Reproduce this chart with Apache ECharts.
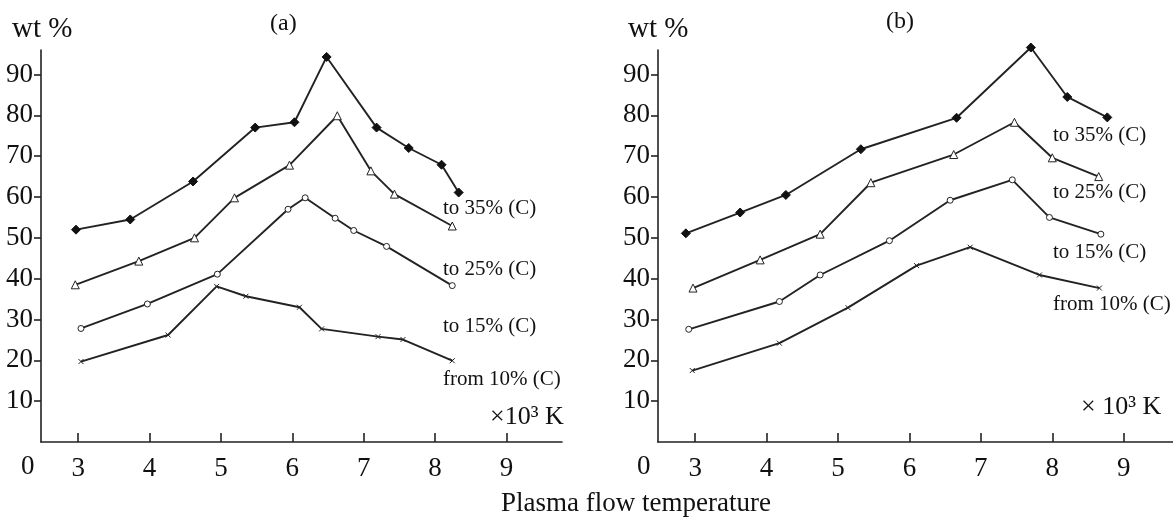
<!DOCTYPE html>
<html>
<head>
<meta charset="utf-8">
<script src="https://cdn.jsdelivr.net/npm/echarts@6/dist/echarts.min.js"></script>
<style>
  html, body { margin: 0; padding: 0; background: #fff; }
  #chart { width: 1173px; height: 527px; }
</style>
</head>
<body>
<div id="chart"></div>
<script>
// temperature (x10^3 K), wt % -- panel (a)
const a35 = [[2.97, 52.0], [3.73, 54.5], [4.61, 63.8], [5.48, 77.0], [6.03, 78.3], [6.48, 94.3], [7.18, 77.0], [7.63, 72.0], [8.09, 67.9], [8.33, 61.1]];
const a25 = [[2.96, 38.5], [3.85, 44.3], [4.63, 50.0], [5.19, 59.8], [5.96, 67.8], [6.63, 79.9], [7.10, 66.4], [7.43, 60.7], [8.24, 52.9]];
const a15 = [[3.04, 27.8], [3.97, 33.8], [4.95, 41.1], [5.94, 57.0], [6.18, 59.8], [6.60, 54.8], [6.86, 51.8], [7.32, 47.9], [8.24, 38.3]];
const a10 = [[3.04, 19.7], [4.26, 26.2], [4.94, 38.1], [5.35, 35.7], [6.10, 33.0], [6.41, 27.7], [7.20, 25.8], [7.55, 25.1], [8.24, 19.9]];

// panel (b)
const b35 = [[2.87, 51.1], [3.63, 56.2], [4.27, 60.5], [5.32, 71.7], [6.66, 79.4], [7.70, 96.6], [8.21, 84.5], [8.77, 79.5]];
const b25 = [[2.97, 37.7], [3.91, 44.6], [4.75, 50.9], [5.46, 63.5], [6.62, 70.4], [7.47, 78.3], [8.00, 69.6], [8.65, 65.0]];
const b15 = [[2.91, 27.6], [4.18, 34.4], [4.75, 40.9], [5.72, 49.3], [6.57, 59.2], [7.44, 64.2], [7.96, 55.0], [8.68, 50.9]];
const b10 = [[2.96, 17.5], [4.18, 24.2], [5.14, 32.9], [6.10, 43.2], [6.85, 47.7], [7.82, 40.9], [8.66, 37.7]];

const xTicks = [3, 4, 5, 6, 7, 8, 9];
const yTicks = [10, 20, 30, 40, 50, 60, 70, 80, 90];
const seriesNames = ['to 35% (C)', 'to 25% (C)', 'to 15% (C)', 'from 10% (C)'];

const FONT = '"Liberation Serif", "DejaVu Serif", serif';
const INK = '#222';
const crossPath = 'path://M0,0L10,10M10,0L0,10';

const chart = echarts.init(document.getElementById('chart'));

const makeX = (gridIndex, max) => ({
  type: 'value', gridIndex, min: 2.48, max,
  axisLine: { lineStyle: { color: INK, width: 1.6 } },
  axisTick: { customValues: xTicks, inside: true, length: 9, lineStyle: { color: INK, width: 1.6 } },
  axisLabel: { customValues: xTicks, color: '#111', fontFamily: FONT, fontSize: 27, margin: 13 },
  splitLine: { show: false }
});
const makeY = (gridIndex) => ({
  type: 'value', gridIndex, min: 0, max: 96,
  axisLine: { show: true, lineStyle: { color: INK, width: 1.6 } },
  axisTick: { show: true, customValues: yTicks, length: 7, lineStyle: { color: INK, width: 1.6 } },
  axisLabel: { customValues: yTicks, color: '#111', fontFamily: FONT, fontSize: 27, margin: 8 },
  splitLine: { show: false }
});

const lineStyle = { color: INK, width: 1.9 };
const makeSeries = (idx, data, kind) => {
  const s = {
    type: 'line', xAxisIndex: idx, yAxisIndex: idx, data, clip: false,
    lineStyle, silent: true, animation: false, showAllSymbol: true
  };
  if (kind === 35) {
    s.symbol = 'diamond'; s.symbolSize = 9;
    s.itemStyle = { color: '#111', borderColor: '#111', borderWidth: 1 };
  } else if (kind === 25) {
    s.symbol = 'triangle'; s.symbolSize = 8;
    s.itemStyle = { color: '#fff', borderColor: INK, borderWidth: 1 };
  } else if (kind === 15) {
    s.symbol = 'circle'; s.symbolSize = 6;
    s.itemStyle = { color: '#fff', borderColor: INK, borderWidth: 1 };
  } else {
    s.symbol = crossPath; s.symbolSize = 5;
    s.itemStyle = { color: 'none', borderColor: INK, borderWidth: 1 };
  }
  return s;
};

const txt = (left, top, text, size) => ({
  type: 'text', left, top,
  style: { text, fill: '#111', font: size + 'px ' + FONT }
});

chart.setOption({
  backgroundColor: '#fff',
  grid: [
    { left: 41, top: 50, width: 521, height: 392 },
    { left: 658, top: 50, width: 515, height: 392 }
  ],
  xAxis: [makeX(0, 9.777), makeX(1, 9.69)],
  yAxis: [makeY(0), makeY(1)],
  series: [
    makeSeries(0, a35, 35), makeSeries(0, a25, 25), makeSeries(0, a15, 15), makeSeries(0, a10, 10),
    makeSeries(1, b35, 35), makeSeries(1, b25, 25), makeSeries(1, b15, 15), makeSeries(1, b10, 10)
  ],
  graphic: [
    txt(12, 15, 'wt %', 29),
    txt(270, 12, '(a)', 24),
    txt(628, 15, 'wt %', 29),
    txt(886, 10, '(b)', 24),
    txt(21, 453, '0', 27),
    txt(637, 453, '0', 27),
    txt(443, 198, seriesNames[0], 21),
    txt(443, 259, seriesNames[1], 21),
    txt(443, 316, seriesNames[2], 21),
    txt(443, 369, seriesNames[3], 21),
    txt(1053, 125, seriesNames[0], 21),
    txt(1053, 182, seriesNames[1], 21),
    txt(1053, 242, seriesNames[2], 21),
    txt(1053, 294, seriesNames[3], 21),
    txt(490, 404, '×10³ K', 26),
    txt(1081, 394, '× 10³ K', 26),
    txt(501, 490, 'Plasma flow temperature', 27)
  ]
});
</script>
</body>
</html>
